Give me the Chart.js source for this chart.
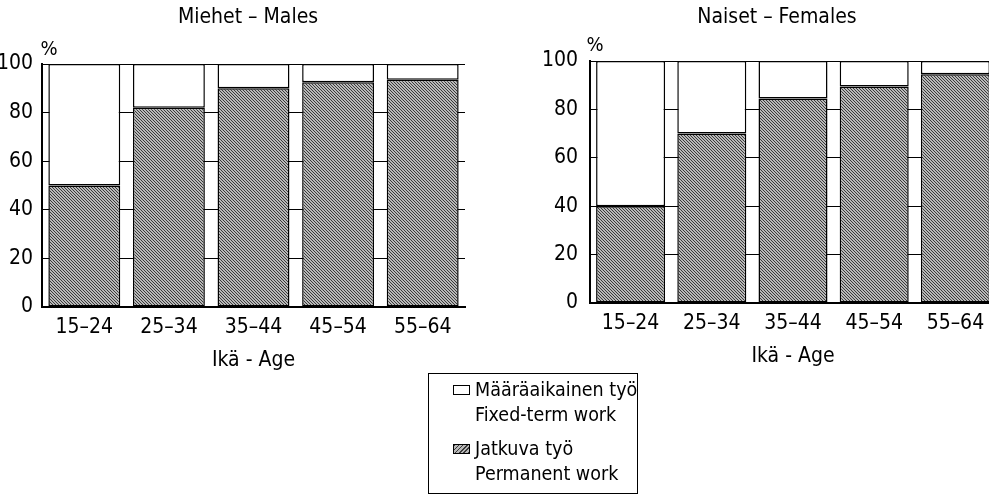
<!DOCTYPE html>
<html>
<head>
<meta charset="utf-8">
<script src="https://cdn.jsdelivr.net/npm/chart.js@4.4.1/dist/chart.umd.min.js"></script>
<style>
  html, body { margin: 0; padding: 0; background: #fff; overflow: hidden; width: 989px; height: 502px; }
  #wrap { position: relative; width: 989px; height: 502px; overflow: hidden; }
  canvas { position: absolute; top: 0; }
  #cLeft { left: 0; }
  #cRight { left: 540px; }
  #legend {
    position: absolute; left: 428px; top: 373px; width: 210px; height: 121px;
    border: 1px solid #000; box-sizing: border-box;
    font-family: "Liberation Sans Narrow", "DejaVu Sans Condensed", Roboto, sans-serif;
    font-size: 19.5px; line-height: 25px; color: #000; white-space: nowrap;
  }
  .item { position: absolute; left: 46px; }
  .sw { position: absolute; left: 24px; width: 17px; height: 10px; border: 1px solid #000; box-sizing: border-box; }
  .hatch { background: repeating-linear-gradient(135deg, #3a3a3a 0 1px, #b8b8b8 1px 3px); }
</style>
</head>
<body>
<div id="wrap">
  <canvas id="cLeft" width="480" height="380"></canvas>
  <canvas id="cRight" width="470" height="380"></canvas>
  <div id="legend">
    <div class="sw" style="top:11px;background:#fff"></div>
    <div class="item" style="top:3px">Määräaikainen työ<br>Fixed-term work</div>
    <div class="sw hatch" style="top:70px"></div>
    <div class="item" style="top:62px">Jatkuva työ<br>Permanent work</div>
  </div>
</div>
<script>
// ---- data ----
const ageGroups = ['15–24', '25–34', '35–44', '45–54', '55–64'];
const malesPermanent = [50, 82, 90, 92.5, 93.5];
const malesFixedTerm = [50, 18, 10, 7.5, 6.5];
const femalesPermanent = [40, 70, 84.5, 89.5, 94.5];
const femalesFixedTerm = [60, 30, 15.5, 10.5, 5.5];
const yTicks = [0, 20, 40, 60, 80, 100];
const axisTitle = 'Ikä - Age';
const seriesNames = ['Jatkuva työ – Permanent work', 'Määräaikainen työ – Fixed-term work'];

// ---- styles ----
const FONT = '"Liberation Sans Narrow", "DejaVu Sans Condensed", Roboto, sans-serif';
function hatchPattern() {
  const c = document.createElement('canvas');
  c.width = 3; c.height = 3;
  const g = c.getContext('2d');
  g.fillStyle = '#b8b8b8'; g.fillRect(0, 0, 3, 3);
  g.fillStyle = '#3a3a3a';
  for (let i = 0; i < 3; i++) g.fillRect(i, i, 1, 1);
  return g.createPattern(c, 'repeat');
}

const panelText = {
  id: 'panelText',
  afterDraw(chart, args, opts) {
    const ctx = chart.ctx, a = chart.chartArea;
    ctx.save();
    ctx.fillStyle = '#000';
    ctx.font = '21px ' + FONT;
    ctx.textAlign = 'center';
    ctx.textBaseline = 'middle';
    ctx.fillText(opts.title, opts.titleX, opts.titleY);
    ctx.font = '20px ' + FONT;
    ctx.fillText('%', a.left + opts.pctDx, a.top + opts.pctDy);
    ctx.restore();
  }
};

function makeChart(id, permanent, fixedTerm, cfg) {
  return new Chart(document.getElementById(id), {
    type: 'bar',
    data: {
      labels: ageGroups,
      datasets: [
        { label: seriesNames[0], data: permanent, backgroundColor: hatchPattern(),
          borderColor: '#000', borderWidth: 1.5, borderSkipped: false },
        { label: seriesNames[1], data: fixedTerm, backgroundColor: '#ffffff',
          borderColor: '#000', borderWidth: 1.5, borderSkipped: false }
      ]
    },
    options: {
      responsive: false,
      animation: false,
      devicePixelRatio: 1,
      layout: { padding: { top: cfg.top, right: cfg.right, left: 0, bottom: 0 } },
      datasets: { bar: { barPercentage: 0.85, categoryPercentage: 1.0 } },
      scales: {
        x: {
          stacked: true,
          grid: { display: true, drawOnChartArea: false, drawTicks: false },
          border: { display: true, color: '#000', width: 2 },
          ticks: { color: '#000', font: { family: FONT, size: 21 }, padding: cfg.xPad, maxRotation: 0 },
          title: { display: true, text: axisTitle, color: '#000', font: { family: FONT, size: 21 },
                   padding: { top: 0, bottom: cfg.titlePad } },
          afterFit: s => { s.height = cfg.xHeight; }
        },
        y: {
          stacked: true,
          min: 0, max: 100,
          afterBuildTicks: s => { s.ticks = yTicks.map(v => ({ value: v })); },
          grid: { color: '#000', lineWidth: 1, drawTicks: false },
          border: { display: true, color: '#000', width: 2 },
          ticks: { color: '#000', font: { family: FONT, size: 21 }, padding: cfg.yPad },
          afterFit: s => { s.width = cfg.yWidth; }
        }
      },
      plugins: {
        legend: { display: false },
        tooltip: { enabled: false },
        panelText: cfg.text
      }
    },
    plugins: [panelText]
  });
}

makeChart('cLeft', malesPermanent, malesFixedTerm, {
  top: 64, right: 15, xHeight: 73, yWidth: 42, yPad: 9, xPad: 8, titlePad: 7,
  text: { title: 'Miehet – Males', titleX: 248, titleY: 18, pctDx: 7, pctDy: -14 }
});
makeChart('cRight', femalesPermanent, femalesFixedTerm, {
  top: 61, right: 14, xHeight: 77, yWidth: 50, yPad: 12, xPad: 8, titlePad: 11,
  text: { title: 'Naiset – Females', titleX: 237, titleY: 18, pctDx: 5, pctDy: -15 }
});
</script>
</body>
</html>
